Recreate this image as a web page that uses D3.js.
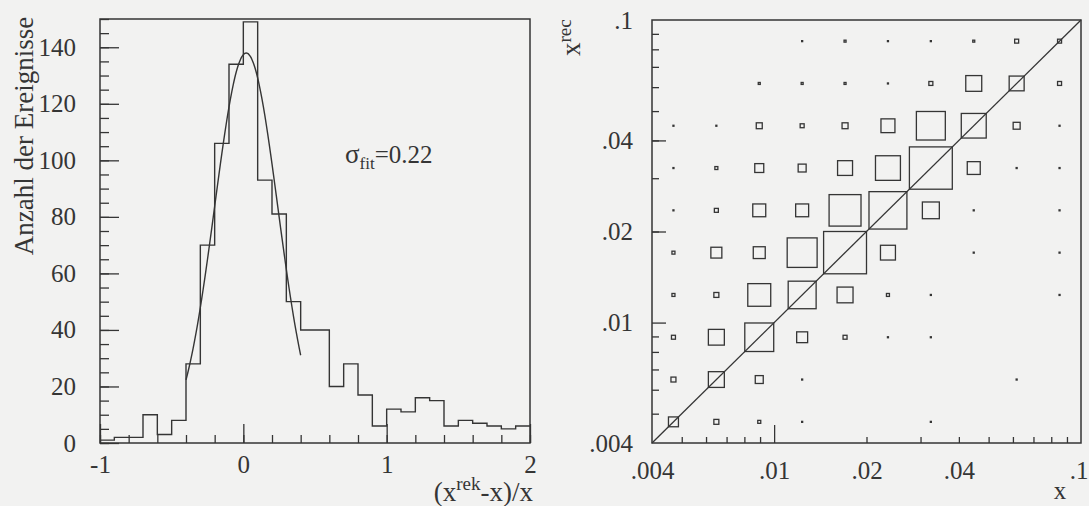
<!DOCTYPE html>
<html><head><meta charset="utf-8">
<script src="https://cdn.jsdelivr.net/npm/d3@7"></script>
<style>
html,body{margin:0;padding:0;background:#f2f2f1;}
svg{display:block;}
</style></head><body>
<svg id="c" width="1089" height="506"></svg>
<script>
// ---------- data: left panel histogram ----------
const histEdges = [-1,-0.9,-0.8,-0.7,-0.6,-0.5,-0.4,-0.3,-0.2,-0.1,0,0.1,0.2,0.3,0.4,0.5,0.6,0.7,0.8,0.9,1.0,1.1,1.2,1.3,1.4,1.5,1.6,1.7,1.8,1.9,2.0];
const histCounts = [1,2,2,10,3,8,28,70,106,134,149,93,81,50,40,40,20,28,17,6,12,11,16,15,6,8,7,6,5,6];
const fitMu = 0.02, fitSigma = 0.22, fitAmp = 138;
const fitRange = [-0.4, 0.4];
const fitLabel = "=0.22";
const histXTicks = [-1, 0, 1, 2];
const histXLabels = ["-1", "0", "1", "2"];
const histYTicks = [0, 20, 40, 60, 80, 100, 120, 140];
const histYLabels = ["0", "20", "40", "60", "80", "100", "120", "140"];

// ---------- data: right panel x vs x_rec boxes ----------
const binEdgesLog = [0.004,0.005519,0.007615,0.010506,0.014496,0.02,0.027595,0.038073,0.05253,0.072478,0.1];
// rows: x_rec bin 0 (bottom) .. 9 (top); columns: x bin 0 (left) .. 9 (right)
const boxCounts = [
  [10, 5, 3, 1, 0, 0, 1, 0, 0, 0],
  [ 5,16, 8, 1, 0, 0, 0, 0, 1, 0],
  [ 4,16,29,11, 4, 1, 1, 0, 0, 0],
  [ 3, 5,23,28,16, 3, 1, 0, 0, 1],
  [ 3,11,12,30,43,15, 0, 1, 0, 1],
  [ 1, 4,13,13,32,38,17, 1, 0, 1],
  [ 1, 3, 9, 8,15,25,43,13, 1, 1],
  [ 1, 1, 6, 4, 6,14,29,25, 7, 1],
  [ 0, 0, 2, 2, 2, 1, 4,16,15, 4],
  [ 0, 0, 0, 1, 2, 1, 1, 2, 4, 4]
];
const diagPoints = [[0.004,0.004],[0.1,0.1]];
const logTickValues = [0.004, 0.01, 0.02, 0.04, 0.1];
const logTickLabels = [".004", ".01", ".02", ".04", ".1"];
const logMinorTicks = [0.005,0.006,0.007,0.008,0.009,0.02,0.03,0.04,0.05,0.06,0.07,0.08,0.09];
const logXMajor = [0.01];
const logYMajor = [0.01, 0.02, 0.04];

// ---------- drawing ----------
const INK = "#353535";
const SERIF = "'Liberation Serif','Times New Roman',serif";
const svg = d3.select("#c");
svg.append("rect").attr("width",1089).attr("height",506).attr("fill","#f2f2f1");

function styleAxis(g, fs){
  g.attr("font-family",null).attr("font-size",null);
  g.selectAll(".domain").remove();
  g.selectAll(".tick line").attr("stroke",INK).attr("stroke-width",1.3);
  g.selectAll(".tick text").attr("fill",INK).attr("font-family",SERIF).attr("font-size",fs);
}

// ===== left panel =====
const xL = d3.scaleLinear().domain([-1,2]).range([100,530]);
const yL = d3.scaleLinear().domain([0,150]).range([443,19]);
const gL = svg.append("g");

gL.append("g").attr("transform","translate(0,443)")
  .call(d3.axisBottom(xL).tickValues(d3.range(-1,2.001,0.2)).tickSize(-8).tickFormat(""))
  .call(g=>styleAxis(g,25));
gL.append("g").attr("transform","translate(0,443)")
  .call(d3.axisBottom(xL).tickValues(histXTicks).tickSize(-19).tickPadding(12).tickFormat((d,i)=>histXLabels[i]))
  .call(g=>styleAxis(g,25));
gL.append("g").attr("transform","translate(100,0)")
  .call(d3.axisLeft(yL).tickValues(d3.range(0,151,5)).tickSize(-9).tickFormat(""))
  .call(g=>styleAxis(g,25));
gL.append("g").attr("transform","translate(100,0)")
  .call(d3.axisLeft(yL).tickValues(histYTicks).tickSize(-19).tickPadding(24).tickFormat((d,i)=>histYLabels[i]))
  .call(g=>styleAxis(g,25));

// histogram outline
const stepPts = [];
histCounts.forEach((v,i)=>{ stepPts.push([histEdges[i],v]); stepPts.push([histEdges[i+1],v]); });
gL.append("path").datum(stepPts)
  .attr("d", d3.line().x(d=>xL(d[0])).y(d=>yL(d[1])))
  .attr("fill","none").attr("stroke",INK).attr("stroke-width",1.4);

// gaussian fit
const fitPts = d3.range(fitRange[0], fitRange[1]+1e-9, 0.01)
  .map(x=>[x, fitAmp*Math.exp(-0.5*Math.pow((x-fitMu)/fitSigma,2))]);
gL.append("path").datum(fitPts)
  .attr("d", d3.line().x(d=>xL(d[0])).y(d=>yL(d[1])).curve(d3.curveBasis))
  .attr("fill","none").attr("stroke",INK).attr("stroke-width",1.4);

// frame
gL.append("rect").attr("x",xL(-1)).attr("y",yL(150)).attr("width",xL(2)-xL(-1)).attr("height",yL(0)-yL(150))
  .attr("fill","none").attr("stroke",INK).attr("stroke-width",1.5);

// sigma label
const sig = gL.append("text").attr("x",345).attr("y",163).attr("fill",INK).attr("font-family",SERIF).attr("font-size",25);
sig.append("tspan").text("σ").attr("font-size",27);
sig.append("tspan").text("fit").attr("font-size",17).attr("dy",6);
sig.append("tspan").text(fitLabel).attr("dy",-6);

// axis titles
svg.append("text").attr("transform","translate(33,136) rotate(-90)").attr("text-anchor","middle")
  .attr("fill",INK).attr("font-family",SERIF).attr("font-size",27).text("Anzahl der Ereignisse");
const xt = svg.append("text").attr("x",533).attr("y",501).attr("text-anchor","end")
  .attr("fill",INK).attr("font-family",SERIF).attr("font-size",27);
xt.append("tspan").text("(x");
xt.append("tspan").text("rek").attr("font-size",19).attr("dy",-11);
xt.append("tspan").text("-x)/x").attr("dy",11);

// ===== right panel =====
const xR = d3.scaleLog().domain([0.004,0.1]).range([652,1081]);
const yR = d3.scaleLog().domain([0.004,0.1]).range([443,20]);
const gR = svg.append("g");

gR.append("g").attr("transform","translate(0,443)")
  .call(d3.axisBottom(xR).tickValues(logMinorTicks).tickSize(-6).tickFormat(""))
  .call(g=>styleAxis(g,25));
gR.append("g").attr("transform","translate(0,443)")
  .call(d3.axisBottom(xR).tickValues(logXMajor).tickSize(-18).tickFormat(""))
  .call(g=>styleAxis(g,25));
gR.append("g").attr("transform","translate(0,443)")
  .call(d3.axisBottom(xR).tickValues(logTickValues).tickSize(0).tickPadding(18).tickFormat((d,i)=>logTickLabels[i]))
  .call(g=>styleAxis(g,25))
  .call(g=>g.selectAll(".tick text").filter(d=>d===0.1).attr("text-anchor","end").attr("x",1088-xR(0.1)));
gR.append("g").attr("transform","translate(652,0)")
  .call(d3.axisLeft(yR).tickValues(logMinorTicks).tickSize(-7).tickFormat(""))
  .call(g=>styleAxis(g,25));
gR.append("g").attr("transform","translate(652,0)")
  .call(d3.axisLeft(yR).tickValues(logYMajor).tickSize(-14).tickFormat(""))
  .call(g=>styleAxis(g,25));
gR.append("g").attr("transform","translate(652,0)")
  .call(d3.axisLeft(yR).tickValues(logTickValues).tickSize(0).tickPadding(19).tickFormat((d,i)=>logTickLabels[i]))
  .call(g=>styleAxis(g,25));

// boxes
const cells = [];
boxCounts.forEach((row,r)=>row.forEach((v,c)=>{ if(v>0) cells.push({r,c,v}); }));
const side = d3.scaleLinear().domain([0, d3.max(cells,d=>d.v)]).range([0,1]);
gR.append("g").selectAll("rect").data(cells).join("rect")
  .attr("x",d=>{ const x0=xR(binEdgesLog[d.c]), x1=xR(binEdgesLog[d.c+1]); return (x0+x1)/2-(x1-x0)*side(d.v)/2; })
  .attr("y",d=>{ const y0=yR(binEdgesLog[d.r+1]), y1=yR(binEdgesLog[d.r]); return (y0+y1)/2-(y1-y0)*side(d.v)/2; })
  .attr("width",d=>(xR(binEdgesLog[d.c+1])-xR(binEdgesLog[d.c]))*side(d.v))
  .attr("height",d=>(yR(binEdgesLog[d.r])-yR(binEdgesLog[d.r+1]))*side(d.v))
  .attr("fill","none").attr("stroke",INK).attr("stroke-width",1.3);

// diagonal
gR.append("path").datum(diagPoints)
  .attr("d", d3.line().x(d=>xR(d[0])).y(d=>yR(d[1])))
  .attr("fill","none").attr("stroke",INK).attr("stroke-width",1.3);

// frame
gR.append("rect").attr("x",xR(0.004)).attr("y",yR(0.1)).attr("width",xR(0.1)-xR(0.004)).attr("height",yR(0.004)-yR(0.1))
  .attr("fill","none").attr("stroke",INK).attr("stroke-width",1.5);

// titles
const yt = svg.append("text").attr("transform","translate(580,56) rotate(-90)")
  .attr("fill",INK).attr("font-family",SERIF).attr("font-size",27);
yt.append("tspan").text("x");
yt.append("tspan").text("rec").attr("font-size",19).attr("dy",-9);
svg.append("text").attr("x",1060).attr("y",499).attr("text-anchor","middle")
  .attr("fill",INK).attr("font-family",SERIF).attr("font-size",25).text("x");
</script>
</body></html>
